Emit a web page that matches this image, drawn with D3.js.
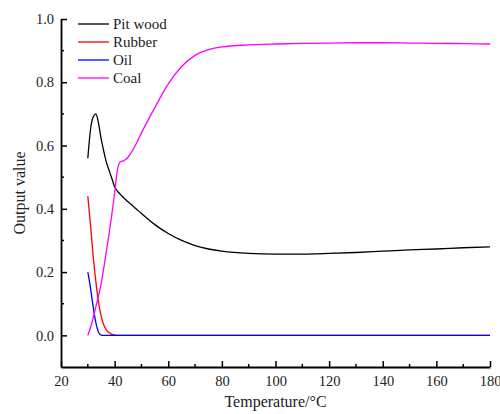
<html>
<head>
<meta charset="utf-8">
<script src="https://cdn.jsdelivr.net/npm/d3@7"></script>
<style>
  body { margin:0; background:#fff; }
  .axis path, .axis line { stroke:#000; }
</style>
</head>
<body>
<div id="chart"></div>
<script>
// temperatures (°C) shared by all series
var temps = [30,31,32,33,34,35,36,37,38,39,40,41,42,43,44,45,46,48,50,55,60,65,70,75,80,90,100,110,120,130,140,150,160,170,180];

var pitWood = [0.56,0.65,0.69,0.70,0.67,0.62,0.58,0.545,0.52,0.495,0.47,0.456,0.447,0.438,0.43,0.422,0.415,0.40,0.385,0.35,0.322,0.30,0.284,0.273,0.266,0.259,0.257,0.257,0.259,0.262,0.266,0.27,0.273,0.277,0.28];
var rubber = [0.44,0.35,0.25,0.17,0.105,0.06,0.032,0.016,0.008,0.003,0.001,0,0,0,0,0,0,0,0,0,0,0,0,0,0,0,0,0,0,0,0,0,0,0,0];
var oil = [0.2,0.15,0.09,0.04,0.01,0.001,0,0,0,0,0,0,0,0,0,0,0,0,0,0,0,0,0,0,0,0,0,0,0,0,0,0,0,0,0];
var coal = [0,0.025,0.055,0.09,0.125,0.165,0.215,0.27,0.325,0.385,0.45,0.52,0.548,0.551,0.555,0.563,0.575,0.605,0.64,0.72,0.795,0.85,0.885,0.903,0.912,0.918,0.921,0.923,0.924,0.925,0.925,0.924,0.923,0.922,0.921];

var seriesNames = ["Pit wood","Rubber","Oil","Coal"];
var seriesColors = ["#000000","#ff0000","#0000ff","#ff00ff"];
var seriesValues = [pitWood, rubber, oil, coal];

var xTicks = [20,40,60,80,100,120,140,160,180];
var yTicks = [0,0.2,0.4,0.6,0.8,1.0];

var FONT = "'Liberation Serif','Times New Roman','DejaVu Serif',serif";

var width = 500, height = 414;
var x = d3.scaleLinear().domain([20,180]).range([61,490]);
var y = d3.scaleLinear().domain([-0.1,1.0]).range([367,19]);

var svg = d3.select("#chart").append("svg")
    .attr("width", width)
    .attr("height", height)
    .attr("font-family", FONT);

//lines
var line = d3.line()
    .x(function(d){ return x(d[0]); })
    .y(function(d){ return y(d[1]); })
    .curve(d3.curveMonotoneX);

seriesValues.forEach(function(vals, i){
  svg.append("path")
    .datum(temps.map(function(t, j){ return [t, vals[j]]; }))
    .attr("fill","none")
    .attr("stroke", seriesColors[i])
    .attr("stroke-width",1.3)
    .attr("d", line);
});

//x axis with inward ticks
var xAxis = svg.append("g").attr("class","axis")
    .attr("transform","translate(0," + y(-0.1) + ")")
    .call(d3.axisBottom(x).tickValues(xTicks).tickSizeInner(-6).tickSizeOuter(0).tickPadding(9));
xAxis.select(".domain").attr("stroke-width",1.8);
xAxis.selectAll(".tick line").attr("stroke-width",1.5);
xAxis.selectAll("text").style("font-size","14.5px");

svg.append("g").attr("class","axis")
    .selectAll("line")
    .data(d3.range(30,180,20))
    .enter().append("line")
      .attr("x1", function(d){ return x(d); })
      .attr("x2", function(d){ return x(d); })
      .attr("y1", y(-0.1))
      .attr("y2", y(-0.1) - 3)
      .attr("stroke-width",1.5);

//y axis
var yAxis = svg.append("g").attr("class","axis")
    .attr("transform","translate(" + x(20) + ",0)")
    .call(d3.axisLeft(y).tickValues(yTicks).tickFormat(d3.format(".1f")).tickSizeInner(-6).tickSizeOuter(0).tickPadding(7));
yAxis.select(".domain").attr("stroke-width",1.8);
yAxis.selectAll(".tick line").attr("stroke-width",1.5);
yAxis.selectAll("text").style("font-size","14.5px");

svg.append("g").attr("class","axis")
    .selectAll("line")
    .data([0.1,0.3,0.5,0.7,0.9])
    .enter().append("line")
      .attr("x1", x(20))
      .attr("x2", x(20) + 3)
      .attr("y1", function(d){ return y(d); })
      .attr("y2", function(d){ return y(d); })
      .attr("stroke-width",1.5);

//axis titles
svg.append("text")
    .attr("x", (x(20) + x(180)) / 2)
    .attr("y", 407)
    .attr("text-anchor","middle")
    .style("font-size","16px")
    .text("Temperature/°C");

svg.append("text")
    .attr("transform","translate(25," + (y(-0.1) + y(1.0)) / 2 + ") rotate(-90)")
    .attr("text-anchor","middle")
    .style("font-size","16px")
    .text("Output value");

//legend
var legend = svg.selectAll(".legend")
    .data(seriesNames)
    .enter().append("g")
      .attr("class","legend")
      .attr("transform", function(d, i){ return "translate(78," + (24 + i * 18) + ")"; });

legend.append("line")
    .attr("x1",0).attr("x2",31)
    .attr("stroke", function(d, i){ return seriesColors[i]; })
    .attr("stroke-width",1.3);

legend.append("text")
    .attr("x",35)
    .attr("y",5)
    .style("font-size","15px")
    .text(function(d){ return d; });

// serif everywhere, same dark grey as the reference
svg.selectAll("text").style("font-family", FONT).style("fill","#222");
</script>
</body>
</html>
